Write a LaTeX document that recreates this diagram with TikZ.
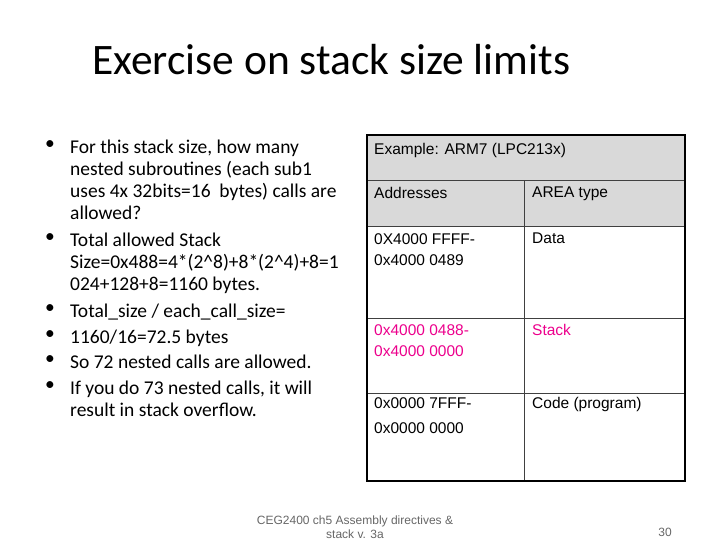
\documentclass[tikz,border=0pt]{standalone}
\usepackage{fontspec}
\setmainfont{Carlito}
\newfontfamily\arial{Liberation Sans}
\begin{document}
\begin{tikzpicture}[x=1pt,y=-1pt,
  bul/.style={anchor=north west,text width=280pt,align=flush left,inner sep=0pt,font=\fontsize{19.5}{22}\selectfont},
  dot/.style={anchor=north west,inner sep=0pt,font=\fontsize{19.5}{22}\selectfont},
  cell/.style={anchor=north west,inner sep=0pt,align=left,font=\arial\fontsize{15.5}{21}\selectfont},
  thin/.style={line width=1pt,color=black!75}]
\useasboundingbox (0,0) rectangle (720,540);
\node[anchor=base west,inner sep=0pt,font=\fontsize{43.5}{46}\selectfont] (title) at (92,75) {Exercise on stack size limits};
\foreach \y/\t/\n in {140/{For this stack size, how many nested subroutines (each sub1 uses 4x 32bits=16\ \ bytes) calls are allowed?}/a,
 233/{Total allowed Stack Size=0x488=4*(2\string^8)+8*(2\string^4)+8=1 024+128+8=1160 bytes.}/b,
 304/{Total\_size / each\_call\_size=}/c,
 330/{1160/16=72.5 bytes}/d,
 355/{So 72 nested calls are allowed.}/e,
 381/{If you do 73 nested calls, it will result in stack overflow.}/f}{
  \node[dot] (d\n) at (45,\y) {•};
  \node[bul] (t\n) at (70,\y) {\t};
}
% table
\fill[black!15] (367,135) rectangle (685,227);
\draw[thin] (367,181) -- (685,181);
\draw[thin] (367,227) -- (685,227);
\draw[thin] (367,318) -- (685,318);
\draw[thin] (367,393) -- (685,393);
\draw[thin] (524,181) -- (524,481);
\draw[line width=2pt] (367,135) rectangle (685,481);
\node[cell] (h) at (374,143) {Example: ARM7 (LPC213x)};
\node[cell] (a1) at (374,187) {Addresses};
\node[cell] (a2) at (532,187) {AREA type};
\node[cell] (b1) at (374,233) {0X4000 FFFF-\\0x4000 0489};
\node[cell] (b2) at (532,233) {Data};
\node[cell,text=magenta] (c1) at (374,324) {0x4000 0488-\\0x4000 0000};
\node[cell,text=magenta] (c2) at (532,324) {Stack};
\node[cell,font=\arial\fontsize{15.5}{25}\selectfont] (e1) at (374,397) {0x0000 7FFF-\\0x0000 0000};
\node[cell] (e2) at (532,397) {Code (program)};
\node[align=center,inner sep=0pt,text=black!60,font=\arial\fontsize{12}{14}\selectfont] (foot) at (355,527) {CEG2400 ch5 Assembly directives \&\\stack v. 3a};
\node[inner sep=0pt,text=black!60,font=\arial\fontsize{12}{13}\selectfont] (pg) at (665,532) {30};
\end{tikzpicture}
\end{document}
